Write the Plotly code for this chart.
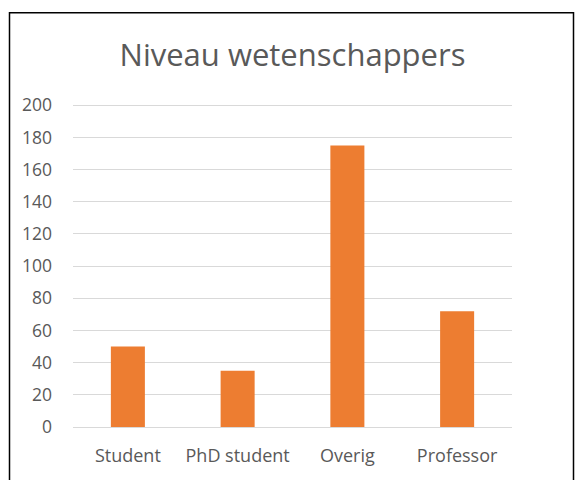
import plotly.graph_objects as go

# ── data ──────────────────────────────────────────────
categories = ["Student", "PhD student", "Overig", "Professor"]
values = [50, 35, 175, 72]
y_ticks = list(range(0, 201, 20))

BAR_COLOR = "#ED7D31"
TEXT_COLOR = "#595959"
GRID_COLOR = "#D9D9D9"

fig = go.Figure()
fig.add_trace(go.Bar(
    x=categories,
    y=values,
    marker=dict(color=BAR_COLOR, line=dict(width=0)),
    width=0.31,
))

# plot area: x 73..512, 0 at y=427, 200 at y=105 (px)
W, H = 575, 480
Y_MAX = 202
L, R, B = 73, 63, 53
ph = (427 - 105) * Y_MAX / 200
T = H - B - ph
pw = W - L - R

def px_x(v):
    return (v - L) / pw

def px_y(v):
    return (H - B - v) / ph

fig.update_layout(
    width=W,
    height=H,
    margin=dict(l=L, r=R, t=T, b=B, autoexpand=False),
    paper_bgcolor="white",
    plot_bgcolor="white",
    font=dict(family="Open Sans, sans-serif", color=TEXT_COLOR, size=16),
    title=dict(
        text="Niveau wetenschappers",
        x=0.5, xanchor="center", xref="paper",
        y=1 - 55 / H, yanchor="middle",
        font=dict(size=31, color=TEXT_COLOR),
    ),
    showlegend=False,
    xaxis=dict(
        showgrid=False,
        showline=False,
        ticks="",
        ticklabelstandoff=16,
        tickfont=dict(size=18, color=TEXT_COLOR),
        fixedrange=True,
    ),
    yaxis=dict(
        range=[0, Y_MAX],
        tickvals=y_ticks,
        showgrid=True,
        gridcolor=GRID_COLOR,
        gridwidth=1,
        zeroline=True,
        zerolinecolor=GRID_COLOR,
        zerolinewidth=1,
        showline=False,
        ticks="",
        ticklabelstandoff=20,
        tickfont=dict(size=17.5, color=TEXT_COLOR),
        fixedrange=True,
    ),
    shapes=[dict(
        type="rect", xref="paper", yref="paper",
        x0=px_x(9.5), x1=px_x(573.5), y0=px_y(495), y1=px_y(12.5),
        line=dict(color="#000000", width=1.5),
        fillcolor="rgba(0,0,0,0)",
        layer="above",
    )],
)

fig.write_html(
    "out.html",
    config={"displayModeBar": False},
    post_script="document.body.style.margin='0';",
)
